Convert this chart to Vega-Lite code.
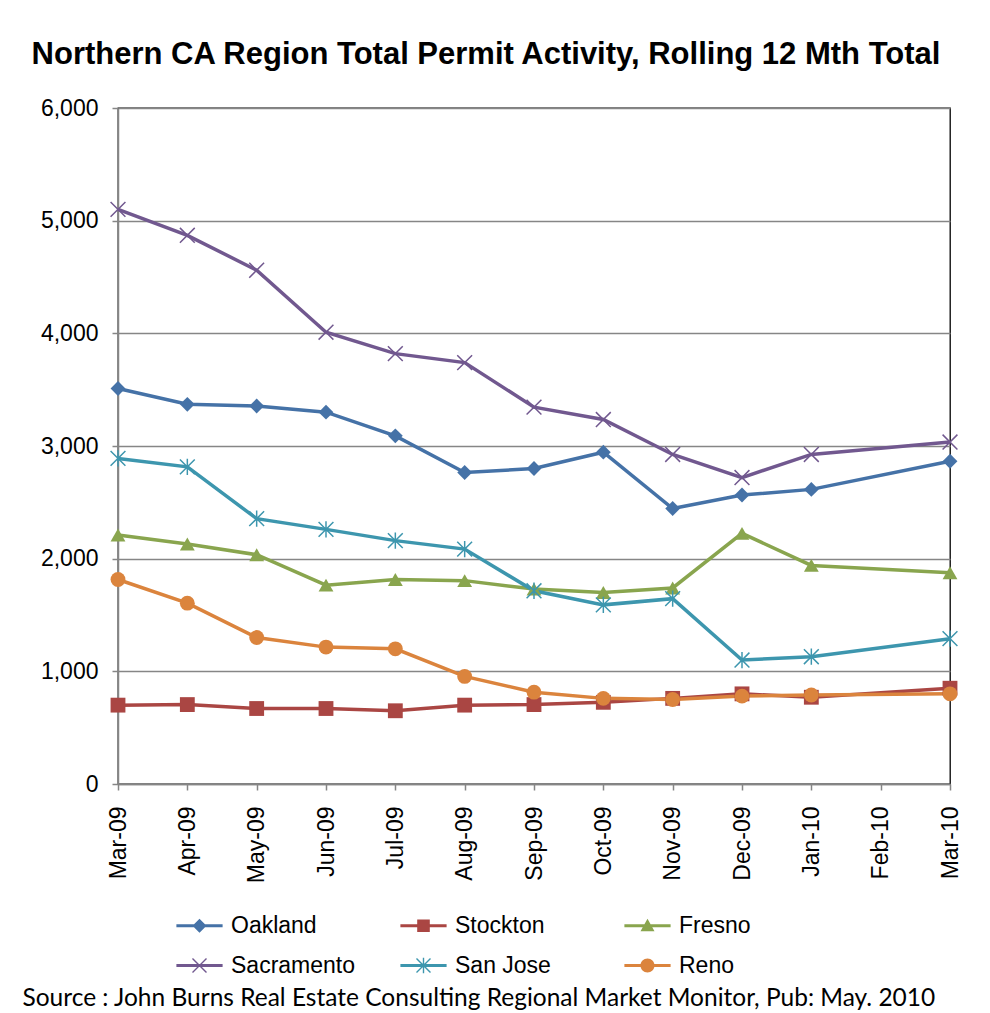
{
  "$schema": "https://vega.github.io/schema/vega-lite/v6.json",
  "width": 832,
  "height": 676,
  "autosize": {"type": "none"},
  "padding": {"left": 118, "top": 108, "right": 40, "bottom": 229},
  "background": "white",
  "title": {
    "text": "Northern CA Region Total Permit Activity, Rolling 12 Mth Total",
    "font": "Liberation Sans",
    "fontSize": 31,
    "fontWeight": "bold",
    "color": "#000000",
    "anchor": "middle",
    "frame": "group",
    "dx": -48,
    "offset": 26
  },
  "data": {
    "values": [
      {"m": "Mar-09", "c": "Oakland", "v": 3510},
      {"m": "Apr-09", "c": "Oakland", "v": 3370},
      {"m": "May-09", "c": "Oakland", "v": 3355},
      {"m": "Jun-09", "c": "Oakland", "v": 3300},
      {"m": "Jul-09", "c": "Oakland", "v": 3090},
      {"m": "Aug-09", "c": "Oakland", "v": 2765},
      {"m": "Sep-09", "c": "Oakland", "v": 2800},
      {"m": "Oct-09", "c": "Oakland", "v": 2945},
      {"m": "Nov-09", "c": "Oakland", "v": 2445},
      {"m": "Dec-09", "c": "Oakland", "v": 2565},
      {"m": "Jan-10", "c": "Oakland", "v": 2615},
      {"m": "Mar-10", "c": "Oakland", "v": 2865},
      {"m": "Mar-09", "c": "Stockton", "v": 700},
      {"m": "Apr-09", "c": "Stockton", "v": 705},
      {"m": "May-09", "c": "Stockton", "v": 670},
      {"m": "Jun-09", "c": "Stockton", "v": 670},
      {"m": "Jul-09", "c": "Stockton", "v": 650},
      {"m": "Aug-09", "c": "Stockton", "v": 700},
      {"m": "Sep-09", "c": "Stockton", "v": 705},
      {"m": "Oct-09", "c": "Stockton", "v": 725},
      {"m": "Nov-09", "c": "Stockton", "v": 760},
      {"m": "Dec-09", "c": "Stockton", "v": 800},
      {"m": "Jan-10", "c": "Stockton", "v": 770},
      {"m": "Mar-10", "c": "Stockton", "v": 850},
      {"m": "Mar-09", "c": "Fresno", "v": 2210},
      {"m": "Apr-09", "c": "Fresno", "v": 2130},
      {"m": "May-09", "c": "Fresno", "v": 2035},
      {"m": "Jun-09", "c": "Fresno", "v": 1765},
      {"m": "Jul-09", "c": "Fresno", "v": 1815},
      {"m": "Aug-09", "c": "Fresno", "v": 1805},
      {"m": "Sep-09", "c": "Fresno", "v": 1730},
      {"m": "Oct-09", "c": "Fresno", "v": 1700},
      {"m": "Nov-09", "c": "Fresno", "v": 1740},
      {"m": "Dec-09", "c": "Fresno", "v": 2225},
      {"m": "Jan-10", "c": "Fresno", "v": 1940},
      {"m": "Mar-10", "c": "Fresno", "v": 1875},
      {"m": "Mar-09", "c": "Sacramento", "v": 5100},
      {"m": "Apr-09", "c": "Sacramento", "v": 4870},
      {"m": "May-09", "c": "Sacramento", "v": 4560},
      {"m": "Jun-09", "c": "Sacramento", "v": 4010},
      {"m": "Jul-09", "c": "Sacramento", "v": 3820},
      {"m": "Aug-09", "c": "Sacramento", "v": 3740},
      {"m": "Sep-09", "c": "Sacramento", "v": 3345},
      {"m": "Oct-09", "c": "Sacramento", "v": 3235},
      {"m": "Nov-09", "c": "Sacramento", "v": 2925},
      {"m": "Dec-09", "c": "Sacramento", "v": 2720},
      {"m": "Jan-10", "c": "Sacramento", "v": 2925},
      {"m": "Mar-10", "c": "Sacramento", "v": 3035},
      {"m": "Mar-09", "c": "San Jose", "v": 2890},
      {"m": "Apr-09", "c": "San Jose", "v": 2815},
      {"m": "May-09", "c": "San Jose", "v": 2355},
      {"m": "Jun-09", "c": "San Jose", "v": 2260},
      {"m": "Jul-09", "c": "San Jose", "v": 2160},
      {"m": "Aug-09", "c": "San Jose", "v": 2085},
      {"m": "Sep-09", "c": "San Jose", "v": 1715},
      {"m": "Oct-09", "c": "San Jose", "v": 1590},
      {"m": "Nov-09", "c": "San Jose", "v": 1645},
      {"m": "Dec-09", "c": "San Jose", "v": 1100},
      {"m": "Jan-10", "c": "San Jose", "v": 1130},
      {"m": "Mar-10", "c": "San Jose", "v": 1290},
      {"m": "Mar-09", "c": "Reno", "v": 1815},
      {"m": "Apr-09", "c": "Reno", "v": 1605},
      {"m": "May-09", "c": "Reno", "v": 1300},
      {"m": "Jun-09", "c": "Reno", "v": 1215},
      {"m": "Jul-09", "c": "Reno", "v": 1200},
      {"m": "Aug-09", "c": "Reno", "v": 955},
      {"m": "Sep-09", "c": "Reno", "v": 815},
      {"m": "Oct-09", "c": "Reno", "v": 760},
      {"m": "Nov-09", "c": "Reno", "v": 750},
      {"m": "Dec-09", "c": "Reno", "v": 780},
      {"m": "Jan-10", "c": "Reno", "v": 790},
      {"m": "Mar-10", "c": "Reno", "v": 800}
    ]
  },
  "encoding": {
    "x": {
      "field": "m",
      "type": "ordinal",
      "sort": ["Mar-09", "Apr-09", "May-09", "Jun-09", "Jul-09", "Aug-09", "Sep-09", "Oct-09", "Nov-09", "Dec-09", "Jan-10", "Feb-10", "Mar-10"],
      "scale": {
        "type": "point",
        "padding": 0,
        "domain": ["Mar-09", "Apr-09", "May-09", "Jun-09", "Jul-09", "Aug-09", "Sep-09", "Oct-09", "Nov-09", "Dec-09", "Jan-10", "Feb-10", "Mar-10"]
      },
      "axis": {
        "labelAngle": -90,
        "labelPadding": 16,
        "grid": false,
        "title": "Source : John Burns Real Estate Consulting Regional Market Monitor, Pub: May. 2010",
        "titleFont": "Lato",
        "titleFontSize": 24.5,
        "titleFontWeight": "normal",
        "titleColor": "#000000",
        "titleX": -96,
        "titleY": 214,
        "titleAlign": "left",
        "titleBaseline": "middle",
        "titleAnchor": "start"
      }
    },
    "y": {
      "field": "v",
      "type": "quantitative",
      "scale": {"domain": [0, 6000], "nice": false},
      "axis": {
        "values": [0, 1000, 2000, 3000, 4000, 5000, 6000],
        "format": ",.0f",
        "title": null,
        "grid": true,
        "labelPadding": 14
      }
    }
  },
  "layer": [
    {
      "mark": {"type": "line", "strokeWidth": 3.5},
      "encoding": {
        "color": {
          "field": "c",
          "type": "nominal",
          "scale": {
            "domain": ["Oakland", "Stockton", "Fresno", "Sacramento", "San Jose", "Reno"],
            "range": ["#4572A7", "#AA4643", "#89A54E", "#71588F", "#3D96AE", "#DB843D"]
          },
          "legend": null
        }
      }
    },
    {
      "mark": {"type": "point", "filled": true, "opacity": 1, "size": 220},
      "encoding": {
        "color": {
          "field": "c",
          "type": "nominal",
          "scale": {
            "domain": ["Oakland", "Stockton", "Fresno", "Sacramento", "San Jose", "Reno"],
            "range": ["#4572A7", "#AA4643", "#89A54E", "#71588F", "#3D96AE", "#DB843D"]
          },
          "legend": null
        },
        "shape": {
          "field": "c",
          "type": "nominal",
          "scale": {
            "domain": ["Oakland", "Stockton", "Fresno", "Sacramento", "San Jose", "Reno"],
            "range": [
              "diamond",
              "square",
              "triangle-up",
              "M-0.929,-1.071L1.071,0.929L0.929,1.071L-1.071,-0.929ZM1.071,-0.929L-0.929,1.071L-1.071,0.929L0.929,-1.071Z",
              "M-0.929,-1.071L1.071,0.929L0.929,1.071L-1.071,-0.929ZM1.071,-0.929L-0.929,1.071L-1.071,0.929L0.929,-1.071ZM-0.1,-1.1L0.1,-1.1L0.1,1.1L-0.1,1.1Z",
              "circle"
            ]
          },
          "legend": null
        }
      }
    },
    {
      "transform": [{"filter": "false"}],
      "mark": {"type": "point", "filled": true, "opacity": 1},
      "encoding": {
        "color": {
          "field": "c",
          "type": "nominal",
          "scale": {
            "domain": ["Oakland", "Stockton", "Fresno", "Sacramento", "San Jose", "Reno"],
            "range": ["#4572A7", "#AA4643", "#89A54E", "#71588F", "#3D96AE", "#DB843D"]
          },
          "legend": {
            "title": null,
            "orient": "none",
            "legendX": 70,
            "legendY": 806,
            "direction": "horizontal",
            "columns": 3,
            "gridAlign": "all",
            "columnPadding": 44,
            "rowPadding": 16,
            "labelOffset": 20,
            "labelFont": "Liberation Sans",
            "labelFontSize": 23,
            "labelColor": "#000000",
            "symbolSize": 196,
            "symbolStrokeWidth": 0,
            "symbolOpacity": 1,
            "padding": 0
          }
        },
        "shape": {
          "field": "c",
          "type": "nominal",
          "scale": {
            "domain": ["Oakland", "Stockton", "Fresno", "Sacramento", "San Jose", "Reno"],
            "range": [
              "M-3.3,-0.2L3.3,-0.2L3.3,0.2L-3.3,0.2ZM0,-1L1,0L0,1L-1,0Z",
              "M-3.3,-0.2L3.3,-0.2L3.3,0.2L-3.3,0.2ZM-0.9,-0.9L0.9,-0.9L0.9,0.9L-0.9,0.9Z",
              "M-3.3,-0.2L3.3,-0.2L3.3,0.2L-3.3,0.2ZM0,-1L1,0.8L-1,0.8Z",
              "M-3.3,-0.2L3.3,-0.2L3.3,0.2L-3.3,0.2ZM-0.929,-1.071L1.071,0.929L0.929,1.071L-1.071,-0.929ZM1.071,-0.929L-0.929,1.071L-1.071,0.929L0.929,-1.071Z",
              "M-3.3,-0.2L3.3,-0.2L3.3,0.2L-3.3,0.2ZM-0.929,-1.071L1.071,0.929L0.929,1.071L-1.071,-0.929ZM1.071,-0.929L-0.929,1.071L-1.071,0.929L0.929,-1.071ZM-0.1,-1.1L0.1,-1.1L0.1,1.1L-0.1,1.1Z",
              "M-3.3,-0.2L3.3,-0.2L3.3,0.2L-3.3,0.2ZM-1,0A1,1,0,1,1,1,0A1,1,0,1,1,-1,0Z"
            ]
          },
          "legend": {
            "title": null,
            "orient": "none",
            "legendX": 70,
            "legendY": 806,
            "direction": "horizontal",
            "columns": 3,
            "gridAlign": "all",
            "columnPadding": 44,
            "rowPadding": 16,
            "labelOffset": 20,
            "labelFont": "Liberation Sans",
            "labelFontSize": 23,
            "labelColor": "#000000",
            "symbolSize": 196,
            "symbolStrokeWidth": 0,
            "symbolOpacity": 1,
            "padding": 0
          }
        }
      }
    }
  ],
  "resolve": {
    "scale": {"color": "independent", "shape": "independent"}
  },
  "config": {
    "font": "Liberation Sans",
    "view": {"stroke": "#000000", "strokeWidth": 1.3},
    "axis": {
      "labelFont": "Liberation Sans",
      "labelFontSize": 23,
      "labelColor": "#000000",
      "domainColor": "#868686",
      "domainWidth": 1.5,
      "tickColor": "#868686",
      "tickWidth": 1.5,
      "tickSize": 6,
      "gridColor": "#868686",
      "gridWidth": 1.3
    }
  }
}
